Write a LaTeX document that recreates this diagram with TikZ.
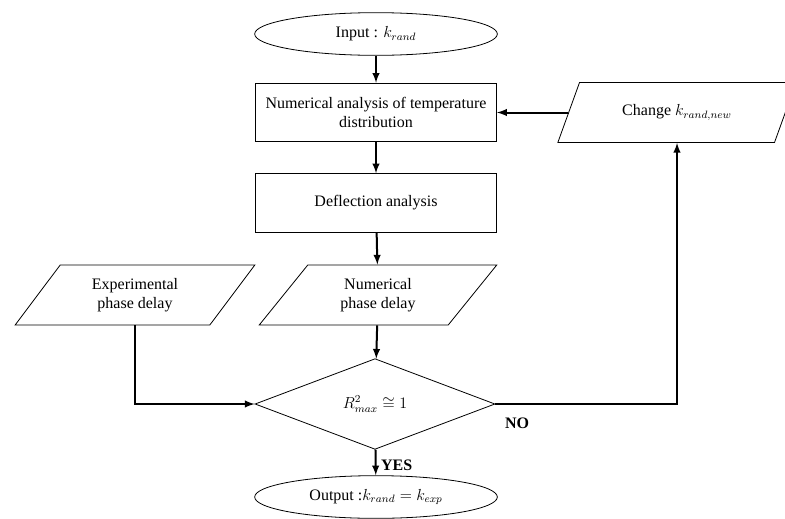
\documentclass[tikz,border=0pt]{standalone}
\usepackage{amsmath, amssymb}
\usepackage{fontspec}
\setmainfont{Liberation Serif}
\usetikzlibrary{shapes.geometric}

\begin{document}
\begin{tikzpicture}[x=0.75pt, y=-0.75pt,
    every node/.style={font=\fontsize{12}{14}\selectfont, align=center},
    term/.style={draw, line width=0.6pt, ellipse, minimum width=182pt, minimum height=32pt, inner sep=0pt},
    proc/.style={draw, line width=0.6pt, rectangle, minimum width=181pt, minimum height=44pt, inner sep=0pt},
    io/.style={draw, line width=0.6pt, trapezium, trapezium left angle=52, trapezium right angle=128,
      trapezium stretches=true, minimum width=180pt, minimum height=45pt, inner sep=0pt},
    decide/.style={draw, line width=0.6pt, diamond, minimum width=180pt, minimum height=68pt, inner sep=0pt},
    flow/.style={-latex, line width=1.5pt}]
  \useasboundingbox (0,0) rectangle (785,518);
  % main column
  \node[term] (input) at (376,34) {Input : $k_{rand}$};
  \node[proc] (temp) at (376,112.5) {Numerical analysis of temperature\\ distribution};
  \node[proc] (defl) at (376,203) {Deflection analysis};
  \node[io] (numphase) at (378,295) {Numerical\\ phase delay};
  \node[io] (expphase) at (135,295) {Experimental\\ phase delay};
  \node[decide] (check) at (375,404) {$R^2_{max} \cong 1$};
  \node[term] (output) at (376,497) {Output :$k_{rand} = k_{exp}$};
  % loop back
  \node[io] (change) at (677,112.5) {Change $k_{rand,new}$};

  \draw[flow] (input) -- (temp);
  \draw[flow] (temp) -- (defl);
  \draw[flow] (defl) -- (numphase);
  \draw[flow] (numphase) -- (check);
  \draw[flow] (expphase.south) |- (check.west);
  \draw[flow] (check) -- node[right, pos=0.62, font=\fontsize{12}{14}\selectfont\bfseries] (yes) {YES} (output);
  \draw[flow] (check.east) -| (change.south);
  \draw[flow] (change.west) -- (temp.east -| change.west) -- (temp.east);
  \node[font=\fontsize{12}{14}\selectfont\bfseries] (no) at (517,423) {NO};
\end{tikzpicture}
\end{document}
